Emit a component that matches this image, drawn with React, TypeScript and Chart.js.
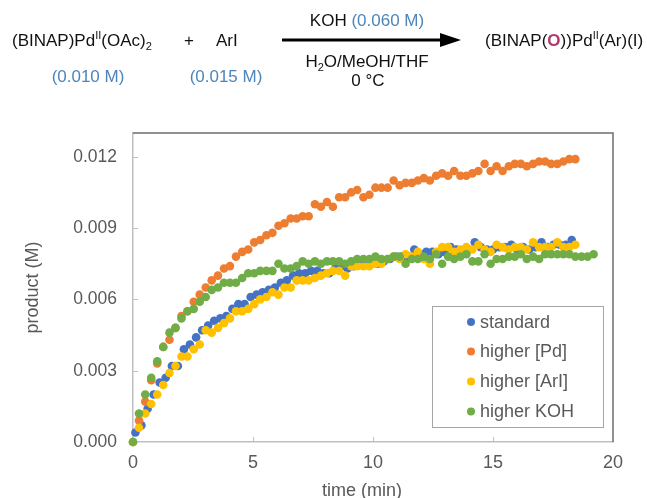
import React, { useEffect, useRef } from 'react';
import { Chart, registerables } from 'chart.js';

Chart.register(...registerables);

// sampling times (min)
const timeGrid = [
  0, 0.25, 0.51, 0.76, 1.01, 1.26, 1.52, 1.77, 2.02, 2.27,
  2.53, 2.78, 3.03, 3.28, 3.54, 3.79, 4.04, 4.29, 4.55, 4.80,
  5.05, 5.30, 5.56, 5.81, 6.06, 6.31, 6.57, 6.82, 7.07, 7.32,
  7.58, 7.83, 8.08, 8.33, 8.59, 8.84, 9.09, 9.34, 9.60, 9.85,
  10.10, 10.35, 10.61, 10.86, 11.11, 11.36, 11.62, 11.87, 12.12, 12.37,
  12.63, 12.88, 13.13, 13.38, 13.64, 13.89, 14.14, 14.39, 14.65, 14.90,
  15.15, 15.40, 15.66, 15.91, 16.16, 16.41, 16.67, 16.92, 17.17, 17.42,
  17.68, 17.93, 18.18, 18.43, 18.69, 18.94, 19.19,
];

const timeStandard = [
  0.10, 0.35, 0.61, 0.86, 1.11, 1.36, 1.62, 1.87, 2.12, 2.37,
  2.63, 2.88, 3.13, 3.38, 3.64, 3.89, 4.14, 4.39, 4.65, 4.90,
  5.15, 5.40, 5.66, 5.91, 6.16, 6.41, 6.67, 6.92, 7.17, 7.42,
  7.68, 7.93, 8.18, 8.43, 8.69, 8.94, 9.19, 9.44, 9.70, 9.95,
  10.20, 10.45, 10.71, 10.96, 11.21, 11.46, 11.72, 11.97, 12.22, 12.47,
  12.73, 12.98, 13.23, 13.48, 13.74, 13.99, 14.24, 14.49, 14.75, 15.00,
  15.25, 15.50, 15.76, 16.01, 16.26, 16.51, 16.77, 17.02, 17.27, 17.52,
  17.78, 18.03, 18.28,
];

// product concentration (M)
const standard = [
  0.0004, 0.0007, 0.0014, 0.0020, 0.0025, 0.0027, 0.0032, 0.0032, 0.0039, 0.0041,
  0.0044, 0.0047, 0.0049, 0.0051, 0.0052, 0.0053, 0.0056, 0.0058, 0.0058, 0.0061,
  0.0062, 0.0063, 0.0064, 0.0065, 0.0067, 0.0068, 0.0070, 0.0071, 0.0071, 0.0072,
  0.0072, 0.0071, 0.0071, 0.0073, 0.0074, 0.0073, 0.0074, 0.0075, 0.0075, 0.0075,
  0.0075, 0.0076, 0.0077, 0.0078, 0.0078, 0.0078, 0.0081, 0.0079, 0.0080, 0.0080,
  0.0079, 0.0080, 0.0082, 0.0081, 0.0080, 0.0081, 0.0084, 0.0082, 0.0081, 0.0081,
  0.0082, 0.0082, 0.0083, 0.0081, 0.0082, 0.0081, 0.0082, 0.0084, 0.0082, 0.0083,
  0.0083, 0.0083, 0.0085,
];

const higherPd = [
  0, 0.0009, 0.0017, 0.0026, 0.0033, 0.0040, 0.0043, 0.0048, 0.0053, 0.0055,
  0.0059, 0.0062, 0.0065, 0.0068, 0.0070, 0.0073, 0.0074, 0.0078, 0.0080, 0.0081,
  0.0084, 0.0085, 0.0087, 0.0088, 0.0091, 0.0092, 0.0094, 0.0094, 0.0095, 0.0095,
  0.0100, 0.0099, 0.0101, 0.0099, 0.0103, 0.0103, 0.0105, 0.0106, 0.0103, 0.0104,
  0.0107, 0.0107, 0.0107, 0.0110, 0.0108, 0.0109, 0.0109, 0.0110, 0.0111, 0.0110,
  0.0112, 0.0113, 0.0112, 0.0114, 0.0112, 0.0112, 0.0113, 0.0114, 0.0117, 0.0114,
  0.0116, 0.0114, 0.0116, 0.0117, 0.0117, 0.0116, 0.0117, 0.0118, 0.0118, 0.0117,
  0.0117, 0.0118, 0.0119, 0.0119,
];

const higherArI = [
  0, 0.0006, 0.0012, 0.0016, 0.0020, 0.0024, 0.0029, 0.0032, 0.0036, 0.0036,
  0.0039, 0.0041, 0.0047, 0.0046, 0.0048, 0.0050, 0.0052, 0.0055, 0.0055, 0.0056,
  0.0058, 0.0060, 0.0061, 0.0063, 0.0062, 0.0065, 0.0065, 0.0068, 0.0068, 0.0068,
  0.0069, 0.0070, 0.0071, 0.0072, 0.0072, 0.0070, 0.0074, 0.0074, 0.0074, 0.0074,
  0.0075, 0.0075, 0.0077, 0.0078, 0.0077, 0.0079, 0.0078, 0.0080, 0.0077, 0.0075,
  0.0080, 0.0082, 0.0082, 0.0080, 0.0081, 0.0082, 0.0081, 0.0083, 0.0081, 0.0080,
  0.0083, 0.0082, 0.0081, 0.0082, 0.0082, 0.0081, 0.0084, 0.0082, 0.0082, 0.0082,
  0.0084, 0.0082, 0.0082, 0.0083,
];

const higherKOH = [
  0, 0.0012, 0.0020, 0.0027, 0.0034, 0.0040, 0.0046, 0.0048, 0.0052, 0.0055,
  0.0056, 0.0059, 0.0061, 0.0064, 0.0065, 0.0067, 0.0067, 0.0067, 0.0069, 0.0071,
  0.0071, 0.0072, 0.0072, 0.0072, 0.0075, 0.0073, 0.0073, 0.0074, 0.0076, 0.0075,
  0.0076, 0.0075, 0.0076, 0.0076, 0.0076, 0.0075, 0.0076, 0.0077, 0.0077, 0.0077,
  0.0078, 0.0077, 0.0077, 0.0078, 0.0078, 0.0075, 0.0077, 0.0077, 0.0078, 0.0077,
  0.0079, 0.0075, 0.0078, 0.0077, 0.0078, 0.0079, 0.0076, 0.0076, 0.0079, 0.0075,
  0.0077, 0.0077, 0.0078, 0.0078, 0.0079, 0.0077, 0.0078, 0.0077, 0.0079, 0.0079,
  0.0079, 0.0079, 0.0079, 0.0078, 0.0078, 0.0078, 0.0079,
];

const seriesLabels = ['standard', 'higher [Pd]', 'higher [ArI]', 'higher KOH'];
const seriesColors = ['#4472C4', '#ED7D31', '#FFC000', '#70AD47'];
const xTickValues = [0, 5, 10, 15, 20];
const yTickValues = [0, 0.003, 0.006, 0.009, 0.012];

const FONT = '"Liberation Sans", Arial, sans-serif';
const GRAY = '#595959';

const pairs = (t: number[], v: number[]) => v.map((y, i) => ({ x: t[i], y }));

const framePlugin = {
  id: 'frameTicks',
  beforeDatasetsDraw(chart: any) {
    const { ctx, chartArea: a, scales } = chart;
    ctx.save();
    ctx.strokeStyle = '#6E6E6E';
    ctx.lineWidth = 1.5;
    ctx.beginPath();
    ctx.moveTo(a.left, a.top);
    ctx.lineTo(a.right, a.top);
    ctx.lineTo(a.right, a.bottom);
    ctx.stroke();
    ctx.strokeStyle = '#BFBFBF';
    ctx.lineWidth = 1;
    scales.x.ticks.forEach((t: any) => {
      if (t.value <= 0 || t.value >= 20) return;
      const px = Math.round(scales.x.getPixelForValue(t.value)) + 0.5;
      ctx.beginPath();
      ctx.moveTo(px, a.bottom);
      ctx.lineTo(px, a.bottom - 5);
      ctx.stroke();
    });
    scales.y.ticks.forEach((t: any) => {
      if (t.value <= 0) return;
      const py = Math.round(scales.y.getPixelForValue(t.value)) + 0.5;
      ctx.beginPath();
      ctx.moveTo(a.left, py);
      ctx.lineTo(a.left + 5, py);
      ctx.stroke();
    });
    ctx.restore();
  },
  afterDraw(chart: any) {
    const { ctx } = chart;
    const bx = 432.5, by = 306.5, bw = 171, bh = 121;
    ctx.save();
    ctx.fillStyle = '#ffffff';
    ctx.fillRect(bx, by, bw, bh);
    ctx.strokeStyle = '#A6A6A6';
    ctx.lineWidth = 1;
    ctx.strokeRect(bx, by, bw, bh);
    ctx.font = `18px ${FONT}`;
    ctx.textBaseline = 'middle';
    ctx.textAlign = 'left';
    const rows = [322, 351.5, 381.5, 411.5];
    chart.data.datasets.forEach((ds: any, i: number) => {
      ctx.fillStyle = ds.backgroundColor;
      ctx.beginPath();
      ctx.arc(471, rows[i], 4, 0, Math.PI * 2);
      ctx.fill();
      ctx.fillStyle = GRAY;
      ctx.fillText(ds.label, 480, rows[i] + 1);
    });
    ctx.restore();
  },
};

export default function App() {
  const ref = useRef<HTMLCanvasElement | null>(null);

  useEffect(() => {
    if (!ref.current) return;
    const series = [
      pairs(timeStandard, standard),
      pairs(timeGrid, higherPd),
      pairs(timeGrid, higherArI),
      pairs(timeGrid, higherKOH),
    ];
    const chart = new Chart(ref.current, {
      type: 'scatter',
      data: {
        datasets: series.map((d, i) => ({
          label: seriesLabels[i],
          data: d,
          backgroundColor: seriesColors[i],
          borderColor: seriesColors[i],
          pointRadius: 4.3,
          pointBorderWidth: 0,
          pointHoverRadius: 4.3,
          order: 4 - i,
          clip: false as any,
        })),
      },
      options: {
        responsive: false,
        animation: false,
        events: [],
        layout: { padding: { left: 0, top: 133, right: 34, bottom: 0 } },
        plugins: { legend: { display: false }, tooltip: { enabled: false } },
        scales: {
          x: {
            type: 'linear',
            min: 0,
            max: 20,
            afterFit: (s: any) => { s.height = 56; },
            afterBuildTicks: (s: any) => { s.ticks = xTickValues.map((v) => ({ value: v })); },
            grid: { display: false, drawTicks: false },
            border: { display: true, color: '#BFBFBF', width: 1.5 },
            ticks: {
              color: GRAY,
              font: { family: FONT, size: 18 },
              padding: 10,
              maxRotation: 0,
              callback: (v: any) => String(v),
            },
          },
          y: {
            type: 'linear',
            min: 0,
            max: 0.013,
            afterFit: (s: any) => { s.width = 133; },
            afterBuildTicks: (s: any) => { s.ticks = yTickValues.map((v) => ({ value: v })); },
            grid: { display: false, drawTicks: false },
            border: { display: true, color: '#BFBFBF', width: 1.5 },
            ticks: {
              color: GRAY,
              font: { family: FONT, size: 17.5 },
              padding: 16,
              callback: (v: any) => Number(v).toFixed(3),
            },
            title: {
              display: true,
              text: 'product (M)',
              color: GRAY,
              font: { family: FONT, size: 18 },
              padding: { top: 22, bottom: 0 },
            },
          },
        },
      },
      plugins: [framePlugin],
    });
    return () => chart.destroy();
  }, []);

  const txt = (extra: React.CSSProperties): React.CSSProperties => ({
    position: 'absolute',
    fontSize: 17,
    lineHeight: '20px',
    whiteSpace: 'nowrap',
    color: '#111',
    ...extra,
  });
  const blue = '#4D85BA';
  const sup: React.CSSProperties = { fontSize: 11, verticalAlign: 'super', lineHeight: 0 };
  const sub: React.CSSProperties = { fontSize: 11, verticalAlign: 'sub', lineHeight: 0 };

  return (
    <div style={{ position: 'fixed', left: 0, top: 0, width: 647, height: 498, background: '#fff', fontFamily: FONT, overflow: 'hidden' }}>
      <canvas ref={ref} width={647} height={498} style={{ position: 'absolute', left: 0, top: 0, width: 647, height: 498 }} />
      <div style={txt({ left: 12, top: 31 })}>
        (BINAP)Pd<span style={sup}>II</span>(OAc)<span style={sub}>2</span>
      </div>
      <div style={txt({ left: 189, top: 31, transform: 'translateX(-50%)' })}>+</div>
      <div style={txt({ left: 216, top: 31 })}>ArI</div>
      <div style={txt({ left: 88, top: 67, transform: 'translateX(-50%)', color: blue })}>(0.010 M)</div>
      <div style={txt({ left: 226, top: 67, transform: 'translateX(-50%)', color: blue })}>(0.015 M)</div>
      <div style={txt({ left: 367, top: 11, transform: 'translateX(-50%)' })}>
        KOH <span style={{ color: blue }}>(0.060 M)</span>
      </div>
      <svg style={{ position: 'absolute', left: 280, top: 31, width: 185, height: 18 }} viewBox="0 0 185 18">
        <line x1={2} y1={9} x2={165} y2={9} stroke="#000" strokeWidth={3} />
        <polygon points="160,2 181,9 160,16" fill="#000" />
      </svg>
      <div style={txt({ left: 367, top: 52, transform: 'translateX(-50%)' })}>
        H<span style={sub}>2</span>O/MeOH/THF
      </div>
      <div style={txt({ left: 368, top: 71, transform: 'translateX(-50%)' })}>0 °C</div>
      <div style={txt({ left: 485, top: 31 })}>
        (BINAP(<span style={{ color: '#B03A6E', fontWeight: 'bold' }}>O</span>))Pd<span style={sup}>II</span>(Ar)(I)
      </div>
      <div style={txt({ left: 362, top: 479, transform: 'translateX(-50%)', color: GRAY, fontSize: 18, lineHeight: '22px' })}>
        time (min)
      </div>
    </div>
  );
}
